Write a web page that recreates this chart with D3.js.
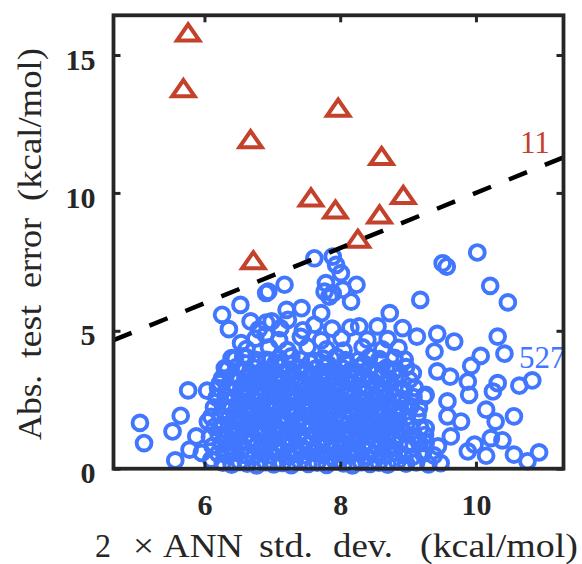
<!DOCTYPE html>
<html><head><meta charset="utf-8">
<script src="https://cdn.jsdelivr.net/npm/d3@7"></script>
<style>body{margin:0;background:#fff} svg{display:block}</style>
</head><body>
<script>
// ---------------- data ----------------
const xDomain = [4.66, 11.29];
const yDomain = [0, 16.44];
const xTicks = [6, 8, 10];
const yTicks = [0, 5, 10, 15];
const aboveCount = "11";
const belowCount = "527";
const diagonal = [4.66, 11.29]; // y = x reference line

// points above the line (triangles)
const abovePoints = [
  [5.76,15.80],[5.69,13.78],[7.97,13.07],[6.68,11.93],[8.61,11.32],
  [7.57,9.82],[8.93,9.91],[7.93,9.38],[8.58,9.20],[8.26,8.32],[6.72,7.54]
];

// points below the line (circles) - outlying ones
const belowOuter = [
  [5.05,1.66],[5.11,0.93],[5.65,1.92],[5.53,1.35],[5.57,0.30],[5.76,2.84],[6.04,2.83],
  [6.26,5.58],[6.53,5.94],[6.36,5.06],[6.68,5.34],[6.91,6.37],[6.54,4.55],[6.91,5.30],
  [6.90,4.86],[6.40,4.01],[6.57,4.07],[6.30,3.65],[6.23,3.10],[6.05,1.71],[5.88,1.17],
  [5.78,0.69],[6.10,0.33],[5.96,0.57],[6.91,3.95],
  [7.62,7.63],[7.89,7.69],[7.94,7.39],[8.01,7.09],[7.18,6.67],[6.94,6.42],[7.79,6.73],
  [8.24,6.67],[7.77,6.42],[7.89,6.36],[8.04,6.49],[8.16,6.06],[7.84,6.24],[7.21,5.76],
  [7.43,5.82],[7.72,5.64],[8.73,5.64],[9.18,6.12],[6.99,5.34],[7.23,5.40],[7.62,5.22],
  [8.28,5.16],[8.55,5.16],[8.92,5.10],[9.13,4.79],[9.04,2.26],
  [10.02,7.84],[9.51,7.45],[9.57,7.33],[10.21,6.63],[10.47,6.03],
  [10.32,4.79],[10.42,4.17],[9.43,4.89],[9.68,4.61],[10.07,4.09],[9.93,3.73],[9.39,4.25],
  [9.43,3.53],[9.62,3.34],[9.88,3.16],[10.32,3.10],[10.25,2.80],[10.64,3.01],[10.83,3.20],
  [9.24,2.62],[9.58,2.44],[9.90,2.68],[10.15,2.14],[10.56,1.90],[10.29,1.71],[9.26,1.47],
  [9.78,1.71],[9.63,1.17],[10.22,1.11],[10.39,1.03],[9.98,0.87],[10.15,0.47],[10.56,0.51],
  [10.76,0.27],[10.93,0.59],[9.88,0.63],[9.07,3.47],[9.14,1.05],[9.44,0.81],[9.58,1.90],
  [9.26,0.93],[9.26,2.68]
];

// points below the line (circles) - dense cloud
const belowCore = [
  [6.27,0.22],[6.4,0.15],[6.52,0.25],[6.63,0.18],[6.77,0.12],[6.9,0.24],[7.02,0.16],[7.15,0.21],[7.28,0.13],[7.41,0.26],[7.53,0.17],[7.66,0.22],[7.8,0.14],[7.93,0.27],[8.05,0.19],[8.18,0.12],[8.31,0.24],[8.44,0.17],[8.57,0.22],[8.7,0.15],[8.84,0.26],[8.97,0.18],[9.12,0.23],[9.3,0.16],[9.48,0.2],
  [6.2,0.55],[6.33,0.48],[6.46,0.58],[6.6,0.5],[6.72,0.44],[6.85,0.57],[6.97,0.49],[7.1,0.6],[7.23,0.46],[7.36,0.54],[7.49,0.47],[7.61,0.59],[7.74,0.5],[7.87,0.43],[8.0,0.56],[8.13,0.48],[8.26,0.6],[8.39,0.45],[8.52,0.53],[8.65,0.47],[8.79,0.58],[8.93,0.5],[9.07,0.44],[9.22,0.55],[9.38,0.48],
  [6.12,0.82],[6.25,0.9],[6.38,0.8],[6.51,0.88],[6.64,0.95],[6.77,0.83],[6.9,0.9],[7.03,0.78],[7.16,0.87],[7.29,0.93],[7.42,0.81],[7.55,0.89],[7.68,0.84],[7.81,0.95],[7.94,0.8],[8.07,0.88],[8.2,0.92],[8.33,0.79],[8.46,0.86],[8.6,0.94],[8.73,0.82],[8.87,0.9],[9.01,0.85],[9.17,0.92],
  [6.08,1.15],[6.21,1.22],[6.34,1.12],[6.47,1.25],[6.6,1.18],[6.73,1.1],[6.86,1.24],[6.99,1.16],[7.12,1.28],[7.25,1.13],[7.38,1.21],[7.51,1.17],[7.64,1.26],[7.77,1.11],[7.9,1.2],[8.03,1.27],[8.16,1.14],[8.29,1.22],[8.42,1.16],[8.55,1.25],[8.68,1.12],[8.82,1.2],[8.96,1.27],[9.1,1.15],[9.25,1.22],
  [6.15,1.52],[6.28,1.58],[6.41,1.48],[6.54,1.6],[6.67,1.53],[6.8,1.45],[6.93,1.57],[7.06,1.5],[7.19,1.62],[7.32,1.47],[7.45,1.55],[7.58,1.6],[7.71,1.49],[7.84,1.56],[7.97,1.44],[8.1,1.58],[8.23,1.51],[8.36,1.62],[8.49,1.47],[8.62,1.55],[8.75,1.6],[8.89,1.5],[9.03,1.57],[9.18,1.48],
  [6.1,1.88],[6.23,1.95],[6.36,1.84],[6.49,1.92],[6.62,1.98],[6.75,1.86],[6.88,1.93],[7.01,1.82],[7.14,1.9],[7.27,1.97],[7.4,1.85],[7.53,1.92],[7.66,1.88],[7.79,1.98],[7.92,1.83],[8.05,1.91],[8.18,1.96],[8.31,1.84],[8.44,1.9],[8.57,1.97],[8.7,1.86],[8.84,1.93],[8.98,1.88],[9.14,1.95],
  [6.14,2.22],[6.27,2.3],[6.4,2.2],[6.53,2.28],[6.66,2.18],[6.79,2.26],[6.92,2.33],[7.05,2.21],[7.18,2.29],[7.31,2.17],[7.44,2.25],[7.57,2.32],[7.7,2.2],[7.83,2.27],[7.96,2.19],[8.09,2.31],[8.22,2.23],[8.35,2.16],[8.48,2.28],[8.61,2.21],[8.74,2.3],[8.88,2.18],[9.02,2.26],[9.16,2.2],
  [6.18,2.58],[6.31,2.64],[6.44,2.55],[6.57,2.62],[6.7,2.52],[6.83,2.6],[6.96,2.67],[7.09,2.55],[7.22,2.63],[7.35,2.51],[7.48,2.6],[7.61,2.66],[7.74,2.54],[7.87,2.61],[8.0,2.53],[8.13,2.65],[8.26,2.57],[8.39,2.5],[8.52,2.62],[8.65,2.56],[8.78,2.64],[8.92,2.52],[9.08,2.6],
  [6.2,2.92],[6.33,2.98],[6.46,2.88],[6.59,2.96],[6.72,3.02],[6.85,2.9],[6.98,2.97],[7.11,2.86],[7.24,2.94],[7.37,3.01],[7.5,2.89],[7.63,2.96],[7.76,2.87],[7.89,2.99],[8.02,2.91],[8.15,2.84],[8.28,2.97],[8.41,2.9],[8.54,3.0],[8.67,2.88],[8.8,2.95],[8.94,2.86],[9.1,2.93],
  [6.26,3.28],[6.39,3.34],[6.52,3.24],[6.65,3.32],[6.78,3.22],[6.91,3.3],[7.04,3.37],[7.17,3.25],[7.3,3.33],[7.43,3.21],[7.56,3.3],[7.69,3.36],[7.82,3.24],[7.95,3.31],[8.08,3.23],[8.21,3.35],[8.34,3.27],[8.47,3.2],[8.6,3.32],[8.73,3.25],[8.87,3.34],[9.02,3.22],
  [6.34,3.62],[6.47,3.68],[6.6,3.58],[6.73,3.66],[6.86,3.56],[6.99,3.64],[7.12,3.71],[7.25,3.59],[7.38,3.67],[7.51,3.55],[7.64,3.63],[7.77,3.7],[7.9,3.58],[8.03,3.65],[8.16,3.57],[8.29,3.69],[8.42,3.61],[8.55,3.54],[8.68,3.66],[8.82,3.6],[8.97,3.68],
  [6.45,3.98],[6.62,4.04],[6.77,3.94],[6.97,3.92],[7.1,4.0],[7.28,4.07],[7.42,3.95],[7.62,3.91],[7.75,3.99],[7.94,4.06],[8.08,3.94],[8.27,3.93],[8.43,4.05],[8.58,3.97],[8.8,4.02],[8.95,3.96],
  [6.62,4.34],[6.95,4.4],[7.22,4.3],[7.52,4.42],[7.8,4.33],[8.05,4.28],[8.33,4.4],[8.62,4.33],[8.86,4.38],
  [6.75,4.72],[7.1,4.66],[7.42,4.78],[7.72,4.65],[8.02,4.74],[8.4,4.68],[8.7,4.7],
  [6.8,5.05],[7.12,5.1],[7.45,5.02],[7.88,5.08],[8.15,5.12]
];

const belowFill = [
  [6.55,0.7],[6.82,0.68],[7.08,0.73],[7.35,0.67],[7.62,0.72],[7.9,0.69],[8.16,0.74],[8.42,0.68],[8.7,0.71],
  [6.45,1.02],[6.7,1.05],[6.97,1.0],[7.22,1.06],[7.48,1.01],[7.75,1.04],[8.0,0.99],[8.27,1.05],[8.53,1.02],[8.8,1.0],
  [6.5,1.38],[6.76,1.35],[7.02,1.4],[7.3,1.36],[7.56,1.41],[7.82,1.34],[8.08,1.39],[8.35,1.36],[8.6,1.41],[8.9,1.37],
  [6.42,1.72],[6.69,1.75],[6.95,1.7],[7.22,1.74],[7.48,1.69],[7.75,1.73],[8.02,1.71],[8.28,1.76],[8.55,1.7],[8.82,1.74],
  [6.47,2.08],[6.73,2.05],[7.0,2.1],[7.26,2.06],[7.52,2.11],[7.79,2.04],[8.06,2.09],[8.33,2.06],[8.6,2.1],[8.86,2.05],
  [6.52,2.42],[6.78,2.45],[7.04,2.4],[7.3,2.44],[7.56,2.39],[7.82,2.43],[8.08,2.41],[8.35,2.46],[8.62,2.4],[8.88,2.44],
  [6.55,2.78],[6.82,2.75],[7.08,2.8],[7.34,2.76],[7.6,2.81],[7.86,2.74],[8.12,2.79],[8.38,2.76],[8.65,2.8],
  [6.6,3.12],[6.87,3.15],[7.13,3.1],[7.4,3.14],[7.66,3.09],[7.92,3.13],[8.18,3.11],[8.45,3.16],[8.72,3.1],
  [6.68,3.48],[6.95,3.45],[7.22,3.5],[7.48,3.46],[7.74,3.51],[8.0,3.44],[8.26,3.49],[8.52,3.46],[8.78,3.5],
  [6.78,3.82],[7.05,3.85],[7.3,3.8],[7.56,3.84],[7.82,3.79],[8.08,3.83],[8.35,3.81],[8.6,3.86]
];

// label pieces (text only)
const xLabelParts = ["2", "×", "ANN", "std.", "dev.", "(kcal/mol)"];
const yLabelParts = ["Abs.", "test", "error", "(kcal/mol)"];

// ---------------- drawing ----------------
const W = 582, H = 564;
const L = 113.5, R = 563.5, T = 15.3, B = 468.7;
const BLUE = "#4177FF", RED = "#C4412B", AXIS = "#262626";
const SERIF = "'Liberation Serif', 'Times New Roman', Times, serif";

const svg = d3.select("body").append("svg").attr("width", W).attr("height", H);
const x = d3.scaleLinear().domain(xDomain).range([L, R]);
const y = d3.scaleLinear().domain(yDomain).range([B, T]);

const plot = svg.append("g");

const below = belowCore.concat(belowFill, belowOuter);
plot.selectAll("circle.below").data(below).join("circle")
  .attr("class", "below")
  .attr("cx", d => x(d[0])).attr("cy", d => y(d[1]))
  .attr("r", 7.4).attr("fill", "none")
  .attr("stroke", BLUE).attr("stroke-width", 3.9);

const triType = { draw(ctx) { ctx.moveTo(0, -8.6); ctx.lineTo(11.2, 7.6); ctx.lineTo(-11.2, 7.6); ctx.closePath(); } };
plot.selectAll("path.above").data(abovePoints).join("path")
  .attr("class", "above")
  .attr("transform", d => `translate(${x(d[0])},${y(d[1])})`)
  .attr("d", d3.symbol().type(triType)())
  .attr("fill", "none").attr("stroke", RED).attr("stroke-width", 4)
  .attr("stroke-linejoin", "miter");

const line = d3.line().x(d => x(d)).y(d => y(d));
plot.append("path").datum(diagonal).attr("d", line)
  .attr("fill", "none").attr("stroke", "#000").attr("stroke-width", 4.5)
  .attr("stroke-dasharray", "19.5,19.3");

// count labels
svg.append("text").text(aboveCount).attr("x", 520).attr("y", 153)
  .style("font-family", SERIF).attr("font-size", 31).attr("fill", RED);
svg.append("text").text(belowCount).attr("x", 519).attr("y", 368)
  .style("font-family", SERIF).attr("font-size", 31).attr("fill", BLUE);

// axes
function styleAxis(g) {
  g.select(".domain").remove();
  g.selectAll(".tick line").attr("stroke", AXIS).attr("stroke-width", 3);
  g.selectAll(".tick text").attr("fill", AXIS)
    .style("font-family", SERIF).attr("font-weight", "bold").attr("font-size", 30);
}
svg.append("g").attr("transform", `translate(0,${B})`)
  .call(d3.axisBottom(x).tickValues(xTicks).tickSize(-7).tickFormat(d3.format("d")))
  .call(styleAxis)
  .call(g => g.selectAll(".tick text").attr("y", 46).attr("dy", 0));
svg.append("g").attr("transform", `translate(0,${T})`)
  .call(d3.axisTop(x).tickValues(xTicks).tickSize(-7).tickFormat(""))
  .call(styleAxis);
svg.append("g").attr("transform", `translate(${L},0)`)
  .call(d3.axisLeft(y).tickValues(yTicks).tickSize(-7).tickFormat(d3.format("d")))
  .call(styleAxis)
  .call(g => g.selectAll(".tick text").attr("x", -18).attr("dy", "0.47em"));
svg.append("g").attr("transform", `translate(${R},0)`)
  .call(d3.axisRight(y).tickValues(yTicks).tickSize(-7).tickFormat(""))
  .call(styleAxis);

svg.append("rect").attr("x", L).attr("y", T).attr("width", R - L).attr("height", B - T)
  .attr("fill", "none").attr("stroke", AXIS).attr("stroke-width", 3.8);

// axis titles (placed piecewise to mimic LaTeX spacing)
const xPartPos = [[95, 16], [133, 21], [163, 80], [259, 54], [333, 60], [420, 158]];
const xl = svg.append("g");
xLabelParts.forEach((t, i) => {
  xl.append("text").text(t).attr("x", xPartPos[i][0]).attr("y", 557)
    .attr("textLength", xPartPos[i][1]).attr("lengthAdjust", "spacingAndGlyphs")
    .style("font-family", SERIF).attr("font-size", 34).attr("fill", AXIS);
});
const yPartPos = [[440, 65], [358, 53], [288, 70], [201, 153]];
const yl = svg.append("g");
yLabelParts.forEach((t, i) => {
  yl.append("text").text(t)
    .attr("transform", `translate(41,${yPartPos[i][0]}) rotate(-90)`)
    .attr("textLength", yPartPos[i][1]).attr("lengthAdjust", "spacingAndGlyphs")
    .style("font-family", SERIF).attr("font-size", 34).attr("fill", AXIS);
});
</script>
</body></html>
